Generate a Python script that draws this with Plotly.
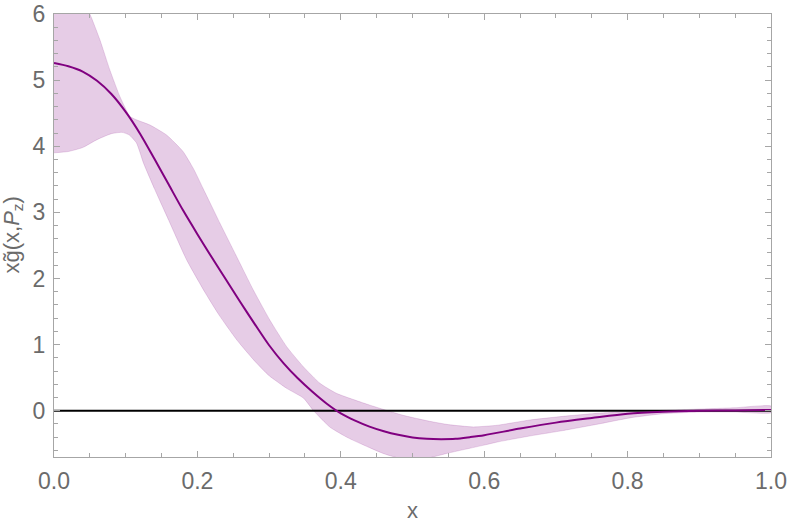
import plotly.graph_objects as go

# central curve
x_central = [0.0, 0.02, 0.04, 0.06, 0.08, 0.1, 0.12, 0.14, 0.16, 0.18, 0.2, 0.22, 0.24,
             0.26, 0.28, 0.3, 0.32, 0.34, 0.36, 0.38, 0.4, 0.42, 0.44, 0.46, 0.48, 0.5,
             0.52, 0.54, 0.56, 0.58, 0.6, 0.65, 0.7, 0.75, 0.8, 0.85, 0.9, 0.95, 1.0]
y_central = [5.26, 5.21, 5.13, 4.99, 4.79, 4.52, 4.19, 3.81, 3.42, 3.03, 2.67, 2.32, 1.98,
             1.64, 1.31, 0.99, 0.72, 0.49, 0.29, 0.11, -0.04, -0.15, -0.24, -0.31, -0.365, -0.405,
             -0.425, -0.43, -0.425, -0.40, -0.37, -0.27, -0.18, -0.11, -0.045, -0.015, 0.0, 0.005, 0.012]

# upper edge of the uncertainty band
x_upper = [0.0, 0.025, 0.05, 0.064, 0.078, 0.092, 0.106, 0.115, 0.134, 0.157, 0.18, 0.195,
           0.208, 0.2315, 0.2548, 0.278, 0.301, 0.3245, 0.3477, 0.371, 0.394, 0.44, 0.487,
           0.524, 0.55, 0.585, 0.618, 0.664, 0.71, 0.757, 0.8, 0.85, 0.9, 0.95, 1.0]
y_upper = [6.7, 6.5, 6.0, 5.61, 5.15, 4.75, 4.45, 4.40, 4.32, 4.17, 3.92, 3.65,
           3.36, 2.835, 2.33, 1.826, 1.372, 0.969, 0.666, 0.414, 0.263, 0.086, -0.07,
           -0.16, -0.21, -0.245, -0.22, -0.14, -0.085, -0.04, -0.012, 0.005, 0.025, 0.045, 0.07]

# lower edge of the uncertainty band
x_lower = [0.0, 0.02, 0.04, 0.06, 0.08, 0.095, 0.105, 0.115, 0.125, 0.14, 0.16, 0.185,
           0.21, 0.23, 0.255, 0.28, 0.3, 0.325, 0.348, 0.362, 0.385, 0.41, 0.43, 0.46,
           0.49, 0.52, 0.55, 0.575, 0.6, 0.62, 0.665, 0.71, 0.76, 0.805, 0.85, 0.9, 0.95, 1.0]
y_lower = [3.90, 3.92, 3.98, 4.10, 4.19, 4.21, 4.17, 4.05, 3.74, 3.36, 2.88, 2.28,
           1.80, 1.45, 1.07, 0.75, 0.53, 0.335, 0.19, 0.0, -0.25, -0.41, -0.51, -0.65,
           -0.74, -0.72, -0.64, -0.58, -0.52, -0.47, -0.38, -0.30, -0.20, -0.105, -0.045, -0.02, -0.02, -0.03]

x_ticks = [0.0, 0.2, 0.4, 0.6, 0.8, 1.0]
x_tick_labels = ["0.0", "0.2", "0.4", "0.6", "0.8", "1.0"]
y_ticks = [0, 1, 2, 3, 4, 5, 6]

purple = "#800080"
band_fill = "rgba(128,0,128,0.2)"
band_edge = "rgba(128,0,128,0.15)"
font_family = "Liberation Sans, Arial, sans-serif"
text_gray = "#6b6b6b"
frame_gray = "#a6a6a6"

band_x = x_upper + x_lower[::-1]
band_y = y_upper + y_lower[::-1]

fig = go.Figure()
fig.add_trace(go.Scatter(x=band_x, y=band_y, mode="lines", fill="toself",
                         fillcolor=band_fill,
                         line=dict(color=band_edge, width=1, shape="spline", smoothing=0.5),
                         showlegend=False, hoverinfo="skip"))
fig.add_trace(go.Scatter(x=[0, 1], y=[0, 0], mode="lines",
                         line=dict(color="black", width=2), showlegend=False))
fig.add_trace(go.Scatter(x=x_central, y=y_central, mode="lines",
                         line=dict(color=purple, width=2, shape="spline", smoothing=0.8),
                         showlegend=False))

axis_common = dict(
    showgrid=False, zeroline=False, showline=True, linecolor=frame_gray, linewidth=1.2,
    mirror="allticks", ticks="inside", tickcolor=frame_gray, ticklen=6, tickwidth=1,
    tickfont=dict(family=font_family, size=23, color=text_gray),
    automargin=False,
)

fig.update_xaxes(range=[0, 1], tickvals=x_ticks, ticktext=x_tick_labels,
                 minor=dict(dtick=0.05, ticks="inside", ticklen=3.5, tickcolor=frame_gray, showgrid=False),
                 ticklabelstandoff=3,
                 **axis_common)
fig.update_yaxes(range=[-0.7, 6], tickvals=y_ticks,
                 minor=dict(dtick=0.2, ticks="inside", ticklen=3.5, tickcolor=frame_gray, showgrid=False),
                 ticklabelstandoff=3,
                 **axis_common)

fig.add_annotation(text="x", xref="paper", yref="paper", x=0.5, y=-(510 - 457) / 443,
                   xanchor="center", yanchor="middle", showarrow=False,
                   font=dict(family=font_family, size=22, color=text_gray))
fig.add_annotation(text="xg̃(x,<i>P</i><sub>z</sub>)", xref="paper", yref="paper",
                   x=(12 - 54) / 717, y=0.5, textangle=-90,
                   xanchor="center", yanchor="middle", showarrow=False,
                   font=dict(family=font_family, size=22, color=text_gray))

fig.update_layout(width=789, height=524, margin=dict(l=54, r=18, t=14, b=67),
                  plot_bgcolor="white", paper_bgcolor="white")

fig.write_html("out.html", config={"displayModeBar": False},
               post_script="document.body.style.margin='0px';")
